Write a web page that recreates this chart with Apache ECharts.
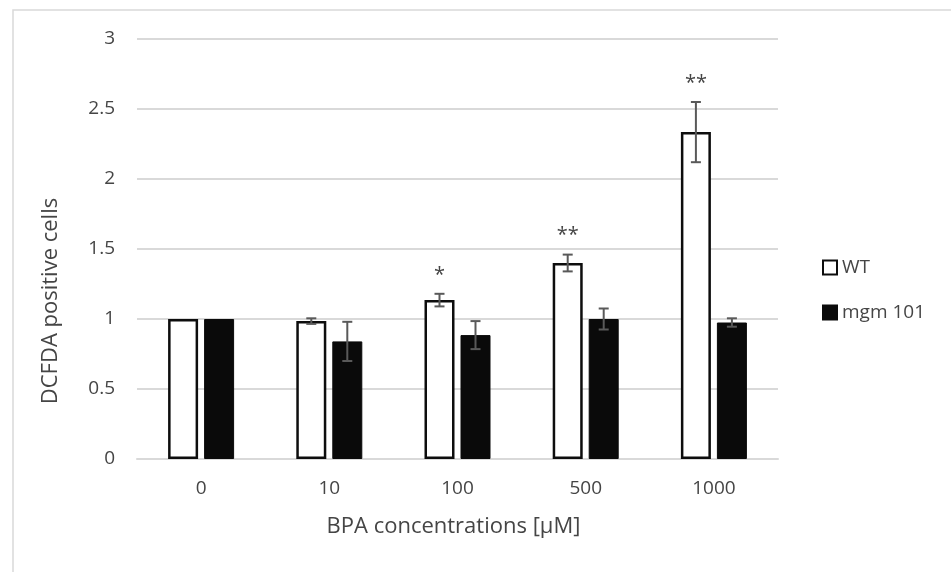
<!DOCTYPE html>
<html style="height: 100%">
<head>
    <meta charset="utf-8">
    <title>DCFDA positive cells</title>
    <script src="https://cdn.jsdelivr.net/npm/echarts@6/dist/echarts.min.js"></script>
</head>
<body style="height: 100%; margin: 0; background: #fff">
    <div id="chart" style="width: 951px; height: 572px"></div>
    <script>
        // data
        const categories = ['0', '10', '100', '500', '1000'];
        const wtValues = [1.0, 0.985, 1.135, 1.40, 2.335];
        const wtErrors = [0.0, 0.02, 0.045, 0.06, 0.215];
        const mgmValues = [1.0, 0.84, 0.885, 1.0, 0.975];
        const mgmErrors = [0.0, 0.14, 0.10, 0.075, 0.03];
        const wtStars = ['', '', '*', '**', '**'];

        const textColor = '#454545';
        const errColor = '#595959';
        const font = 'Open Sans';
        const barWidth = 30;
        const barGapPx = 6;

        // error bars (and stars) drawn next to each bar
        function errorSeries(name, values, errors, offset, stars) {
            return {
                type: 'custom',
                name: name + '_err',
                z: 5,
                silent: true,
                data: values.map((v, i) => [i, v, errors[i]]),
                renderItem: function (params, api) {
                    const i = api.value(0);
                    const v = api.value(1);
                    const e = api.value(2);
                    const star = stars ? stars[i] : '';
                    const top = api.coord([i, v + e]);
                    const bot = api.coord([i, v - e]);
                    const x = top[0] + offset;
                    const cap = 5;
                    const style = { stroke: errColor, lineWidth: 2 };
                    const children = [];
                    if (e > 0) {
                        children.push(
                            { type: 'line', shape: { x1: x, y1: top[1], x2: x, y2: bot[1] }, style: style },
                            { type: 'line', shape: { x1: x - cap, y1: top[1], x2: x + cap, y2: top[1] }, style: style },
                            { type: 'line', shape: { x1: x - cap, y1: bot[1], x2: x + cap, y2: bot[1] }, style: style }
                        );
                    }
                    if (star) {
                        children.push({
                            type: 'text',
                            style: {
                                x: x, y: top[1] - 9, text: star,
                                fill: textColor, font: '20px ' + font,
                                align: 'center', verticalAlign: 'bottom'
                            }
                        });
                    }
                    return { type: 'group', children: children };
                }
            };
        }

        const option = {
            backgroundColor: '#fff',
            animation: false,
            textStyle: { fontFamily: font },
            graphic: [{
                type: 'rect',
                shape: { x: 13, y: 10, width: 960, height: 600 },
                style: { fill: 'none', stroke: '#d9d9d9', lineWidth: 1.5 },
                silent: true
            }],
            grid: { left: 137, right: 173, top: 39, bottom: 113 },
            legend: {
                orient: 'vertical',
                left: 817,
                top: 253,
                itemWidth: 14,
                itemHeight: 14,
                itemGap: 26,
                icon: 'rect',
                data: ['WT', 'mgm 101'],
                textStyle: { color: textColor, fontSize: 19, fontFamily: font }
            },
            xAxis: {
                type: 'category',
                data: categories,
                name: 'BPA concentrations [µM]',
                nameLocation: 'middle',
                nameGap: 57,
                nameTextStyle: { color: textColor, fontSize: 22, fontFamily: font, padding: [0, 8, 0, 0] },
                axisLine: { lineStyle: { color: '#d9d9d9', width: 2 } },
                axisTick: { show: false },
                axisLabel: { color: textColor, fontSize: 19, margin: 20, fontFamily: font }
            },
            yAxis: {
                type: 'value',
                min: 0,
                max: 3,
                interval: 0.5,
                name: 'DCFDA positive cells',
                nameLocation: 'middle',
                nameGap: 75,
                nameTextStyle: { color: textColor, fontSize: 22, fontFamily: font, padding: [0, 104, 0, 0] },
                axisLine: { show: false },
                axisTick: { show: false },
                splitLine: { lineStyle: { color: '#d9d9d9', width: 2 } },
                axisLabel: { color: textColor, fontSize: 19, margin: 22, fontFamily: font }
            },
            series: [
                {
                    name: 'WT',
                    type: 'bar',
                    data: wtValues,
                    barWidth: barWidth,
                    barGap: (barGapPx / barWidth * 100) + '%',
                    itemStyle: { color: '#ffffff', borderColor: '#0d0d0d', borderWidth: 2.5 }
                },
                {
                    name: 'mgm 101',
                    type: 'bar',
                    data: mgmValues,
                    barWidth: barWidth,
                    itemStyle: { color: '#0a0a0a', borderColor: '#0a0a0a', borderWidth: 1 }
                },
                errorSeries('WT', wtValues, wtErrors, -(barWidth + barGapPx) / 2, wtStars),
                errorSeries('mgm 101', mgmValues, mgmErrors, (barWidth + barGapPx) / 2, null)
            ]
        };

        const chart = echarts.init(document.getElementById('chart'), null, { renderer: 'canvas' });
        chart.setOption(option);
    </script>
</body>
</html>
